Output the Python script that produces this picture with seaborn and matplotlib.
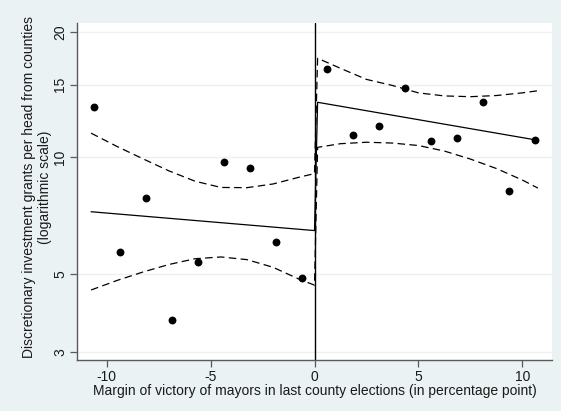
import numpy as np
import matplotlib
matplotlib.use("Agg")
import matplotlib.pyplot as plt
import seaborn as sns

# Binned means of grants per head by margin of victory (percentage points)
bin_margin = [-10.625, -9.375, -8.125, -6.875, -5.625, -4.375, -3.125, -1.875, -0.625,
              0.625, 1.875, 3.125, 4.375, 5.625, 6.875, 8.125, 9.375, 10.625]
bin_grants = [13.27, 5.71, 7.91, 3.72, 5.39, 9.74, 9.39, 6.09, 4.88,
              16.33, 11.31, 11.92, 14.70, 10.97, 11.16, 13.60, 8.22, 11.01]

# Fitted values on each side of the threshold
fit_margin = [-10.75, 0.0, 0.15, 10.75]
fit_grants = [7.28, 6.51, 13.60, 10.99]

# 95% confidence band around the fit
ci_margin = [-10.75, -9.5, -8.25, -7.0, -5.75, -4.5, -3.25, -2.0, -0.75, 0.0,
             0.15, 1.25, 2.5, 3.75, 5.0, 6.25, 7.5, 8.75, 10.0, 10.75]
ci_upper = [11.44, 10.61, 9.89, 9.23, 8.70, 8.39, 8.38, 8.56, 8.90, 9.09,
            17.34, 16.41, 15.44, 14.93, 14.33, 14.09, 14.03, 14.12, 14.33, 14.50]
ci_lower = [4.52, 4.80, 5.06, 5.30, 5.49, 5.55, 5.46, 5.21, 4.84, 4.66,
            10.56, 10.78, 10.87, 10.82, 10.67, 10.34, 9.88, 9.36, 8.76, 8.36]

y_ticks = [3, 5, 10, 15, 20]
x_ticks = [-10, -5, 0, 5, 10]

x_title = "Margin of victory of mayors in last county elections (in percentage point)"
y_title = "Discretionary investment grants per head from counties\n(logarithmic scale)"

sns.set_theme(style="white")
plt.rcParams['font.family'] = ['Liberation Sans', 'DejaVu Sans']

bg = '#eaf2f3'
axis_grey = '#5a5a5a'
text_col = '#1a1a1a'
fs = 10

fig = plt.figure(figsize=(5.61, 4.11), dpi=100, facecolor=bg)
ax = fig.add_axes([77 / 561, 1 - 360 / 411, (552 - 77) / 561, (360 - 23) / 411])
ax.set_facecolor('white')
ax.set_yscale('function', functions=(np.log1p, np.expm1))

ax.axvline(0, color='black', lw=1.0, zorder=2)

dash = (0, (6, 3.5))
sns.lineplot(x=ci_margin, y=ci_upper, sort=False, estimator=None, color='black',
             lw=0.9, linestyle=dash, ax=ax, zorder=2)
sns.lineplot(x=ci_margin, y=ci_lower, sort=False, estimator=None, color='black',
             lw=0.9, linestyle=dash, ax=ax, zorder=2)
sns.lineplot(x=fit_margin, y=fit_grants, sort=False, estimator=None, color='black',
             lw=0.9, ax=ax, zorder=2)
sns.scatterplot(x=bin_margin, y=bin_grants, color='black', s=32, linewidth=0,
                ax=ax, zorder=3)

ax.set_xlim(-11.43, 11.43)
ax.set_ylim(2.84, 21.02)
ax.set_xticks(x_ticks)
ax.set_xticklabels([str(v) for v in x_ticks])
ax.set_yticks(y_ticks)
ax.set_yticklabels([str(v) for v in y_ticks])
ax.minorticks_off()

ax.yaxis.grid(True, color=bg, lw=1.0, zorder=0)
ax.set_axisbelow(True)

for side in ('top', 'right'):
    ax.spines[side].set_visible(False)
for side in ('left', 'bottom'):
    ax.spines[side].set_color(axis_grey)
    ax.spines[side].set_linewidth(1.0)

ax.tick_params(axis='both', which='major', bottom=True, left=True, direction='out',
               length=5, width=0.9, color=axis_grey, labelsize=fs, pad=2,
               labelcolor=text_col)
for lab in ax.get_yticklabels():
    lab.set_rotation(90)
    lab.set_va('center')

ax.set_xlabel(x_title, fontsize=fs, labelpad=0, color=text_col)
ax.set_ylabel(y_title, fontsize=fs, color=text_col, linespacing=1.2)
ax.yaxis.set_label_coords(-0.084, 0.512)
ax.yaxis.label.set_verticalalignment('center')

fig.savefig('out.png', dpi=100, facecolor=fig.get_facecolor())
